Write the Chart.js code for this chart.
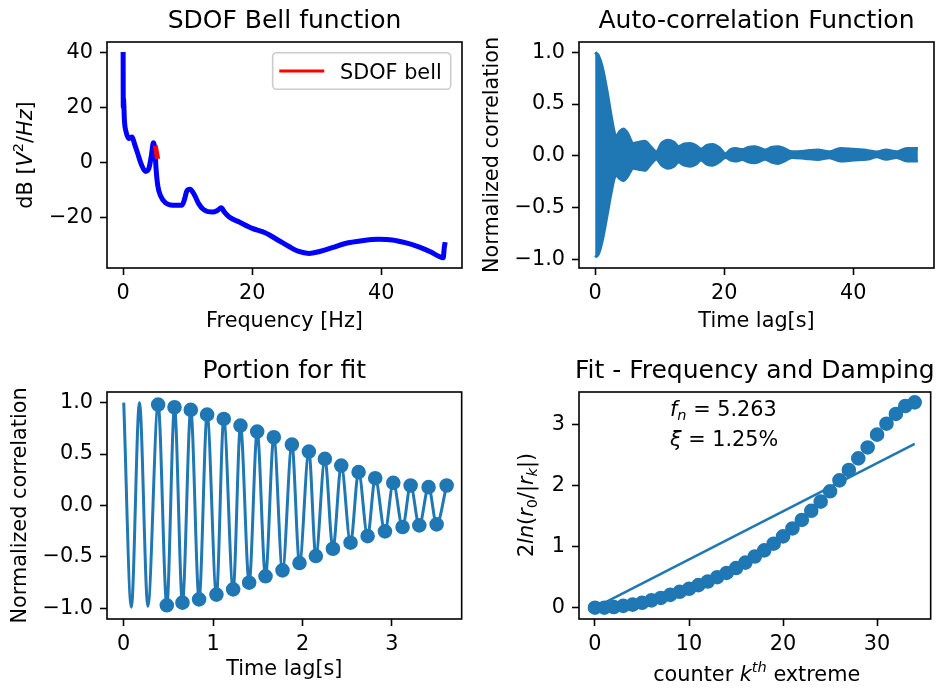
<!DOCTYPE html>
<html>
<head>
<meta charset="utf-8">
<script src="https://cdn.jsdelivr.net/npm/chart.js@4.4.1/dist/chart.umd.min.js"></script>
<style>
  html, body { margin: 0; padding: 0; background: #fff; }
  #fig { position: relative; width: 939px; height: 691px; }
  #fig canvas { position: absolute; }
</style>
</head>
<body>
<div id="fig">
  <canvas id="c1" width="470" height="345" style="left:0;top:0"></canvas>
  <canvas id="c2" width="469" height="345" style="left:470px;top:0"></canvas>
  <canvas id="c3" width="470" height="346" style="left:0;top:345px"></canvas>
  <canvas id="c4" width="469" height="346" style="left:470px;top:345px"></canvas>
</div>
<script>
// --- SDOF Bell function (PSD, dB) ---
const psdFreq = [0, 0.02, 0.05, 0.21, 0.46, 0.88, 1.39, 1.75, 2.27, 2.78, 3.45, 3.97, 4.38, 4.69, 4.95, 5.1, 5.36, 5.77, 6.55, 7.68, 9.12, 9.54, 9.85, 10.36, 11.03, 11.7, 12.42, 13.87, 14.6, 15.2, 15.7, 16.44, 18.0, 20.0, 22.0, 24.1, 25.7, 27.2, 28.8, 30.3, 32.4, 34.4, 37.0, 39.6, 41.7, 43.7, 45.8, 47.6, 48.9, 49.6, 49.75, 49.9];
const psdDb = [40.1, 20.1, 23.1, 14.7, 11.0, 8.6, 9.2, 6.8, 3.1, -0.5, -3.3, -2.3, 2.5, 7.1, 3.7, -2.3, -8.4, -12.0, -14.7, -15.6, -15.6, -13.2, -10.5, -9.8, -11.8, -15.0, -17.1, -18.1, -17.5, -16.5, -18.1, -19.9, -21.7, -24.0, -25.6, -28.4, -30.6, -32.4, -33.1, -32.5, -31.0, -29.5, -28.5, -28.0, -28.2, -29.2, -30.7, -32.5, -34.1, -34.7, -31.0, -29.0];
const bellFreq = [4.98, 5.1, 5.22, 5.35];
const bellDb = [6.0, 4.5, 2.8, 1.2];
const psdXTicks = [0, 20, 40];
const psdYTicks = [-20, 0, 20, 40];

// --- Auto-correlation envelope ---
const lagEnv = [0, 0.5, 1.1, 1.8, 2.5, 3.0, 3.3, 3.8, 4.4, 5.0, 5.9, 6.7, 7.7, 8.6, 9.5, 10.3, 11.3, 12.2, 12.9, 13.8, 14.7, 15.6, 16.4, 17.3, 18.2, 19.2, 20.2, 21.0, 21.8, 22.8, 23.7, 24.7, 25.5, 26.3, 27.3, 28.3, 29.3, 30.5, 32.6, 34.5, 36.3, 38.0, 40.0, 42.3, 43.6, 45.1, 46.7, 48.3, 50.0];
const envUpper = [1.0, 0.97, 0.86, 0.64, 0.38, 0.22, 0.19, 0.235, 0.26, 0.22, 0.12, 0.13, 0.14, 0.09, 0.04, 0.12, 0.15, 0.13, 0.09, 0.115, 0.12, 0.1, 0.065, 0.1, 0.11, 0.08, 0.02, 0.06, 0.07, 0.06, 0.08, 0.088, 0.075, 0.056, 0.08, 0.088, 0.07, 0.04, 0.046, 0.056, 0.04, 0.072, 0.063, 0.05, 0.037, 0.056, 0.04, 0.072, 0.072];
const envLower = [-0.98, -0.95, -0.82, -0.59, -0.35, -0.21, -0.19, -0.22, -0.24, -0.2, -0.12, -0.13, -0.14, -0.08, -0.03, -0.09, -0.12, -0.1, -0.06, -0.09, -0.1, -0.08, -0.04, -0.08, -0.09, -0.06, -0.015, -0.04, -0.05, -0.035, -0.058, -0.066, -0.052, -0.034, -0.06, -0.073, -0.05, -0.015, -0.025, -0.035, -0.018, -0.05, -0.041, -0.03, -0.01, -0.034, -0.015, -0.05, -0.05];
const lagXTicks = [0, 20, 40];
const corrTicks = [-1, -0.5, 0, 0.5, 1];

// --- Portion for fit ---
const leadT = [0, 0.085, 0.176, 0.27];
const leadR = [1.0, -0.99, 1.0, -0.98];
const extT = [0.385, 0.482, 0.568, 0.657, 0.75, 0.843, 0.933, 1.037, 1.119, 1.224, 1.306, 1.403, 1.493, 1.586, 1.679, 1.776, 1.881, 1.966, 2.071, 2.149, 2.25, 2.34, 2.433, 2.537, 2.627, 2.728, 2.813, 2.922, 3.015, 3.119, 3.209, 3.306, 3.41, 3.5, 3.612];
const extR = [0.981, -0.971, 0.955, -0.945, 0.929, -0.913, 0.883, -0.867, 0.841, -0.816, 0.777, -0.751, 0.718, -0.689, 0.663, -0.631, 0.592, -0.56, 0.524, -0.492, 0.453, -0.421, 0.388, -0.362, 0.324, -0.298, 0.265, -0.252, 0.22, -0.21, 0.194, -0.194, 0.178, -0.184, 0.194];
const fitXTicks = [0, 1, 2, 3];

// --- Fit - Frequency and Damping ---
const kIdx = [0, 1, 2, 3, 4, 5, 6, 7, 8, 9, 10, 11, 12, 13, 14, 15, 16, 17, 18, 19, 20, 21, 22, 23, 24, 25, 26, 27, 28, 29, 30, 31, 32, 33, 34];
const logDec = [0.0, 0.0, 0.01, 0.03, 0.05, 0.08, 0.12, 0.16, 0.21, 0.26, 0.31, 0.37, 0.43, 0.5, 0.57, 0.65, 0.74, 0.84, 0.94, 1.05, 1.17, 1.3, 1.44, 1.59, 1.74, 1.91, 2.09, 2.26, 2.45, 2.63, 2.84, 3.02, 3.18, 3.31, 3.37];
const fitK = [0, 34];
const fitV = [0, 2.69];
const kTicks = [0, 10, 20, 30];
const decTicks = [0, 1, 2, 3];

const C0 = '#1f77b4';
const FONT = "'DejaVu Sans'";
Chart.defaults.font.family = FONT;
Chart.defaults.font.size = 20.8;
Chart.defaults.color = '#000';
Chart.defaults.animation = false;
Chart.defaults.events = [];
Chart.defaults.plugins.legend.display = false;
Chart.defaults.plugins.tooltip.enabled = false;

const pts = (xs, ys) => xs.map((x, i) => ({ x: x, y: ys[i] }));
const fmt = (v, d) => (v < 0 ? '\u2212' : '') + Math.abs(v).toFixed(d);

// box around axes (matplotlib spines)
const frameBox = {
    id: 'frameBox',
    afterDatasetsDraw(chart) {
        const a = chart.chartArea, ctx = chart.ctx;
        ctx.save();
        ctx.strokeStyle = '#000';
        ctx.lineWidth = 1.6;
        ctx.strokeRect(a.left, a.top, a.right - a.left, a.bottom - a.top);
        ctx.restore();
    }
};

// title centred over the axes
const axTitle = {
    id: 'axTitle',
    afterDraw(chart, args, opts) {
        if (!opts.text) return;
        const a = chart.chartArea, ctx = chart.ctx;
        ctx.save();
        ctx.font = '25px ' + FONT;
        ctx.fillStyle = '#000';
        ctx.textAlign = 'center';
        ctx.textBaseline = 'alphabetic';
        ctx.fillText(opts.text, (a.left + a.right) / 2, a.top - 13.7);
        ctx.restore();
    }
};

// text with italic / sub / superscript runs (mathtext look)
function drawRich(ctx, it) {
    const size = 20.8;
    ctx.save();
    ctx.translate(it.x, it.y);
    if (it.rot) ctx.rotate(it.rot);
    ctx.fillStyle = '#000';
    ctx.textBaseline = 'alphabetic';
    ctx.textAlign = 'left';
    const parts = it.runs.map(([t, st]) => {
        const small = st.includes('sub') || st.includes('sup');
        const font = (st.startsWith('i') ? 'italic ' : '') + (small ? size * 0.7 : size) + 'px ' + FONT;
        ctx.font = font;
        const dy = st.includes('sub') ? size * 0.2 : st.includes('sup') ? -size * 0.42 : 0;
        return { t, font, dy, w: ctx.measureText(t).width };
    });
    const total = parts.reduce((s, p) => s + p.w, 0);
    let x = it.align === 'left' ? 0 : -total / 2;
    parts.forEach(p => { ctx.font = p.font; ctx.fillText(p.t, x, p.dy); x += p.w; });
    ctx.restore();
}
const richText = {
    id: 'richText',
    afterDraw(chart, args, opts) {
        (opts.items || []).forEach(it => drawRich(chart.ctx, it));
    }
};

// framed legend in the upper right of the axes
const boxLegend = {
    id: 'boxLegend',
    afterDraw(chart, args, opts) {
        if (opts.index === undefined) return;
        const ds = chart.data.datasets[opts.index];
        const a = chart.chartArea, ctx = chart.ctx;
        ctx.save();
        ctx.font = '20.8px ' + FONT;
        const tw = ctx.measureText(ds.label).width;
        const right = a.right - 11.3, top = a.top + 10.7, h = 36.6;
        const textX = right - 9 - tw;
        const hEnd = textX - 15.7, hStart = hEnd - 45;
        const left = hStart - 6.6;
        ctx.fillStyle = 'rgba(255,255,255,0.8)';
        ctx.strokeStyle = '#cccccc';
        ctx.lineWidth = 1.6;
        ctx.beginPath();
        ctx.roundRect(left, top, right - left, h, 4);
        ctx.fill();
        ctx.stroke();
        const cy = top + h / 2;
        ctx.strokeStyle = ds.borderColor;
        ctx.lineWidth = 3;
        ctx.beginPath();
        ctx.moveTo(hStart, cy);
        ctx.lineTo(hEnd, cy);
        ctx.stroke();
        ctx.fillStyle = '#000';
        ctx.textBaseline = 'alphabetic';
        ctx.fillText(ds.label, textX, cy + 7.5);
        ctx.restore();
    }
};
Chart.register(frameBox, axTitle, richText, boxLegend);

function axis(min, max, ticks, dec, fixed, isX, title) {
    return {
        type: 'linear', min: min, max: max,
        afterBuildTicks: s => { s.ticks = ticks.map(v => ({ value: v })); },
        afterFit: s => {
            if (isX) { s.height = fixed; s.paddingLeft = 0; s.paddingRight = 0; }
            else { s.width = fixed; s.paddingTop = 0; s.paddingBottom = 0; }
        },
        ticks: { autoSkip: false, maxRotation: 0, padding: isX ? 6 : 7, callback: v => fmt(v, dec) },
        grid: { display: true, drawOnChartArea: false, drawTicks: true, tickLength: 7, tickWidth: 1.6, tickColor: '#000' },
        border: { display: false },
        title: title ? Object.assign({ display: true, font: { size: 20.8 } }, title) : { display: false }
    };
}

function makeChart(id, datasets, x, y, pad, plugins) {
    return new Chart(document.getElementById(id), {
        type: 'scatter',
        data: { datasets: datasets },
        options: {
            responsive: false,
            devicePixelRatio: 1,
            layout: { padding: pad },
            scales: { x: x, y: y },
            plugins: plugins
        }
    });
}

const line = (data, color, w, extra) => Object.assign({
    data: data, showLine: true, borderColor: color, backgroundColor: color,
    borderWidth: w, pointRadius: 0, cubicInterpolationMode: 'monotone', fill: false
}, extra || {});

// matplotlib 'o' markers: 6pt face + 1pt edge
const markers = (data) => ({
    data: data, showLine: false, pointRadius: 6.25, borderWidth: 2.08,
    backgroundColor: C0, borderColor: C0
});

// 1. SDOF Bell function
makeChart('c1', [
    line(pts(bellFreq, bellDb), '#ff0000', 5, { label: 'SDOF bell' }),
    line(pts(psdFreq, psdDb), '#0000ff', 5)
],
    axis(-2.5, 52.5, psdXTicks, 0, 77, true, { text: 'Frequency [Hz]', padding: { top: 0, bottom: 11 } }),
    axis(-38.4, 43.7, psdYTicks, 0, 107, false, null),
    { top: 42, left: 0, right: 8, bottom: 0 },
    {
        axTitle: { text: 'SDOF Bell function' },
        boxLegend: { index: 0 },
        richText: { items: [{ x: 32, y: 155, rot: -Math.PI / 2, runs: [['dB [', 'r'], ['V', 'i'], ['2', 'sup'], ['/', 'r'], ['Hz', 'i'], [']', 'r']] }] }
    });

// 2. Auto-correlation Function
makeChart('c2', [
    line(pts(lagEnv, envUpper), C0, 3, { fill: '+1' }),
    line(pts(lagEnv, envLower), C0, 3)
],
    axis(-2.5, 52.5, lagXTicks, 0, 77, true, { text: 'Time lag[s]', padding: { top: 0, bottom: 11 } }),
    axis(-1.084, 1.1, corrTicks, 1, 109, false, { text: 'Normalized correlation', padding: { top: 10, bottom: 0 } }),
    { top: 42, left: 0, right: 5, bottom: 0 },
    { axTitle: { text: 'Auto-correlation Function' } });

// 3. Portion for fit
makeChart('c3', [
    line(pts(leadT.concat(extT), leadR.concat(extR)), C0, 3),
    markers(pts(extT, extR))
],
    axis(-0.187, 3.78, fitXTicks, 0, 72, true, { text: 'Time lag[s]', padding: { top: 0, bottom: 8.7 } }),
    axis(-1.104, 1.103, corrTicks, 1, 107, false, { text: 'Normalized correlation', padding: { top: 8, bottom: 0 } }),
    { top: 47, left: 0, right: 8, bottom: 0 },
    { axTitle: { text: 'Portion for fit' } });

// 4. Fit - Frequency and Damping
makeChart('c4', [
    line(pts(fitK, fitV), C0, 2.5, { cubicInterpolationMode: 'default' }),
    markers(pts(kIdx, logDec))
],
    axis(-1.7, 35.7, kTicks, 0, 72, true, null),
    axis(-0.186, 3.54, decTicks, 0, 109, false, null),
    { top: 47, left: 0, right: 5, bottom: 0 },
    {
        axTitle: { text: 'Fit - Frequency and Damping' },
        richText: {
            items: [
                { x: 63, y: 160, rot: -Math.PI / 2, runs: [['2', 'r'], ['ln', 'i'], ['(', 'r'], ['r', 'i'], ['0', 'sub'], ['/|', 'r'], ['r', 'i'], ['k', 'isub'], ['|)', 'r']] },
                { x: 286.7, y: 336, runs: [['counter ', 'r'], ['k', 'i'], ['th', 'isup'], [' extreme', 'r']] },
                { x: 200, y: 71, align: 'left', runs: [['f', 'i'], ['n', 'isub'], [' = 5.263', 'r']] },
                { x: 200, y: 100.7, align: 'left', runs: [['\u03be', 'i'], [' = 1.25%', 'r']] }
            ]
        }
    });
</script>
</body>
</html>
